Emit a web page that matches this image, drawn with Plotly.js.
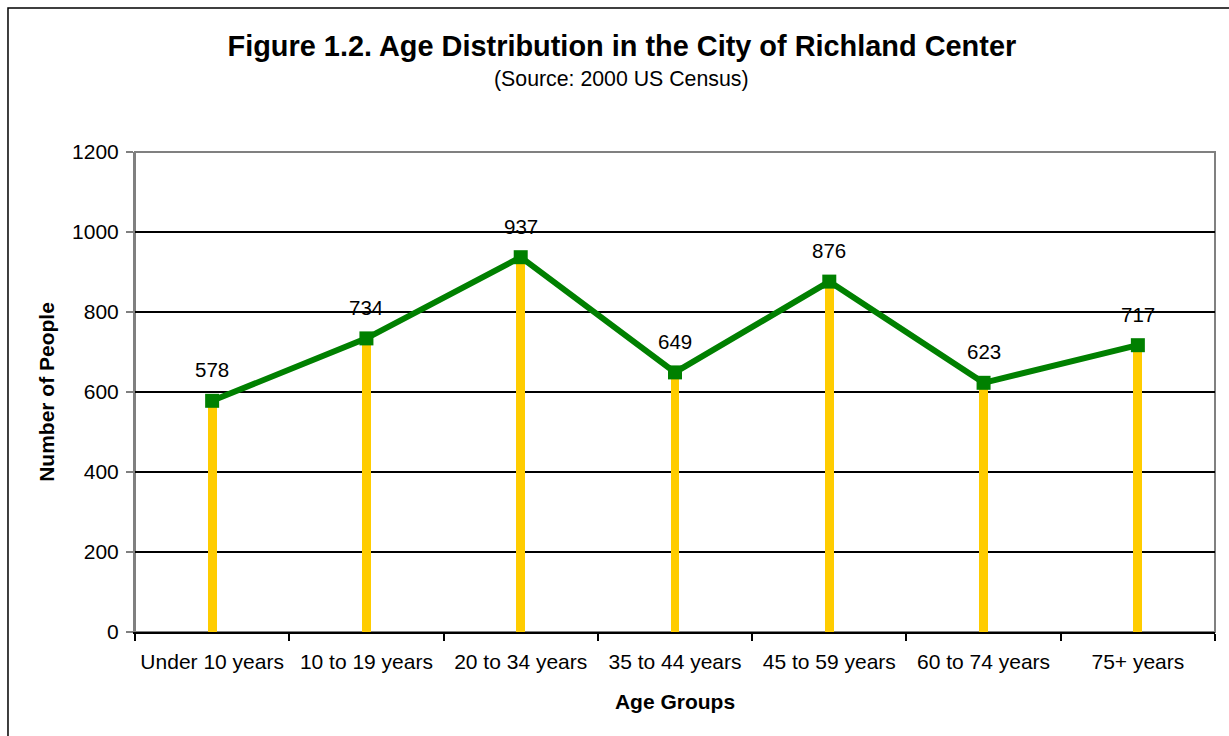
<!DOCTYPE html>
<html>
<head>
<meta charset="utf-8">
<script src="https://cdn.plot.ly/plotly-3.0.1.min.js"></script>
<style>html,body{margin:0;padding:0;background:#fff;}#chart{width:1229px;height:736px;}</style>
</head>
<body>
<div id="chart"></div>
<script>
var categories = ["Under 10 years", "10 to 19 years", "20 to 34 years", "35 to 44 years", "45 to 59 years", "60 to 74 years", "75+ years"];
var people = [578, 734, 937, 649, 876, 623, 717];
var yTicks = [0, 200, 400, 600, 800, 1000, 1200];

var F = "Arial, 'Liberation Sans', sans-serif";

var stems = {
  type: "bar", x: categories, y: people, width: 0.058,
  marker: {color: "#FFCC00", line: {width: 0}},
  hoverinfo: "skip", showlegend: false
};
var line = {
  type: "scatter", mode: "lines+markers", x: categories, y: people,
  line: {color: "#008000", width: 6},
  marker: {symbol: "square", size: 14, color: "#008000"},
  showlegend: false
};

var annotations = categories.map(function(c, i){
  return {x: c, y: people[i], xref: "x", yref: "y", text: String(people[i]),
    showarrow: false, yshift: 31, font: {family: F, size: 20.5, color: "#000"}};
});
annotations.push({xref: "paper", yref: "paper", x: 0.4505, y: 1.153, xanchor: "center", yanchor: "middle",
  text: "(Source: 2000 US Census)", showarrow: false, font: {family: F, size: 21.3, color: "#000"}});

var layout = {
  width: 1229, height: 736,
  margin: {l: 135, r: 14, t: 152, b: 104},
  paper_bgcolor: "#fff", plot_bgcolor: "#fff",
  title: {text: "<b>Figure 1.2. Age Distribution in the City of Richland Center</b>",
    font: {family: F, size: 28.9, color: "#000"}, xref: "container", x: 0.506, xanchor: "center",
    yref: "container", y: 0.938, yanchor: "middle"},
  bargap: 0,
  xaxis: {
    type: "category", range: [-0.5, 6.5], showgrid: false, zeroline: false,
    showline: true, linecolor: "#000", linewidth: 2,
    ticks: "outside", tickson: "boundaries", ticklen: 7, tickwidth: 2, tickcolor: "#000",
    ticklabelstandoff: 10,
    tickfont: {family: F, size: 21, color: "#000"},
    title: {text: "<b>Age Groups</b>", font: {family: F, size: 21, color: "#000"}, standoff: 22}
  },
  yaxis: {
    range: [0, 1200], tickvals: yTicks, showgrid: true, gridcolor: "#000", gridwidth: 2,
    zeroline: false, showline: true, linecolor: "#808080", linewidth: 2,
    ticks: "outside", ticklen: 7, tickwidth: 2, tickcolor: "#808080",
    ticklabelstandoff: 3,
    tickfont: {family: F, size: 21, color: "#000"},
    title: {text: "<b>Number of People</b>", font: {family: F, size: 21, color: "#000"}, standoff: 12}
  },
  shapes: [
    {type: "rect", xref: "paper", yref: "paper", x0: 0, x1: 1, y0: 0, y1: 1,
      line: {color: "#808080", width: 2}, fillcolor: "rgba(0,0,0,0)", layer: "below"},
    {type: "rect", xref: "paper", yref: "paper", x0: -0.1176, x1: 1.2, y0: -0.5, y1: 1.3,
      line: {color: "#000", width: 1.5}, fillcolor: "rgba(0,0,0,0)", layer: "below"}
  ],
  annotations: annotations
};

Plotly.newPlot("chart", [stems, line], layout, {displayModeBar: false, staticPlot: true});
</script>
</body>
</html>
